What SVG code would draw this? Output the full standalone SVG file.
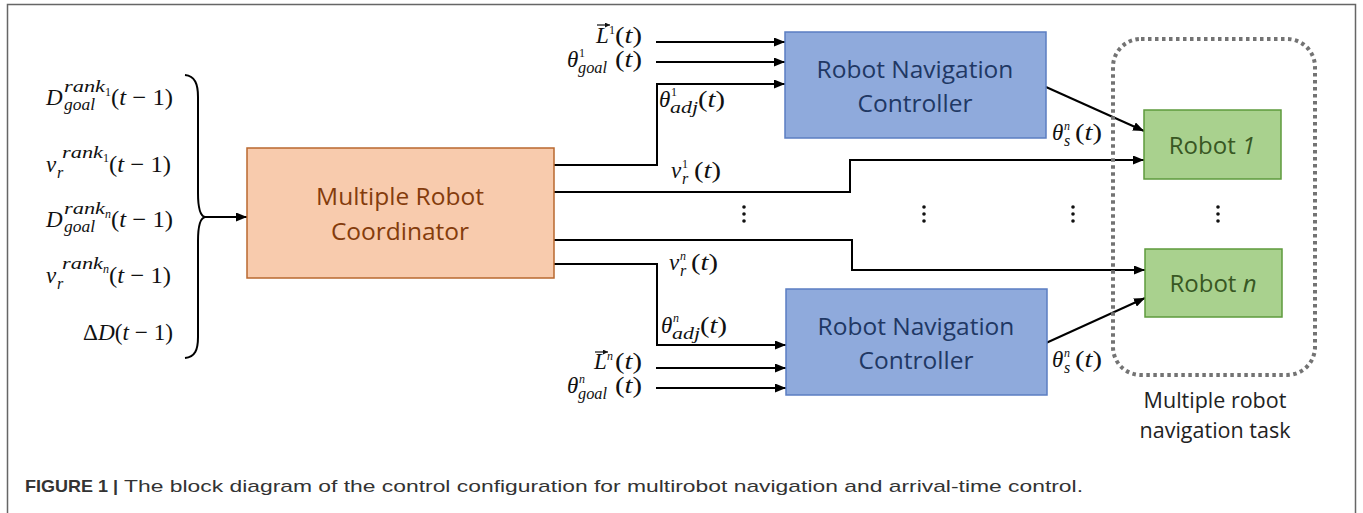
<svg xmlns="http://www.w3.org/2000/svg" width="1363" height="513" viewBox="0 0 1363 513">
<style>
.m{font-family:"Liberation Serif","DejaVu Serif",serif;font-style:italic;fill:#111}
.n{font-style:normal}
.big{font-size:23px}
.sub{font-size:16px}
.sm{font-size:12px}
.lbl{font-family:"Open Sans","Noto Sans",sans-serif;text-anchor:middle}
.wire{fill:none;stroke:#000;stroke-width:2}
.dot{fill:#111}
</style>
<defs>
<marker id="ah" markerUnits="userSpaceOnUse" markerWidth="11" markerHeight="9" refX="11" refY="4.5" orient="auto">
<path d="M0,0 L11,4.5 L0,9 z" fill="#000"/>
</marker>
<marker id="va" markerUnits="userSpaceOnUse" markerWidth="5" markerHeight="5" refX="5" refY="2.5" orient="auto">
<path d="M0,0 L5,2.5 L0,5 z" fill="#111"/>
</marker>
</defs>
<rect width="1363" height="513" fill="#fff"/>
<path d="M7.5,513 V4.5 H1355.5 V513" fill="none" stroke="#666" stroke-width="1.5"/>

<g id="connectors">
<path class="wire" d="M185,75 C195,76 198,84 198,97 V193 C198,208 200,216 205,217 C200,218 198,226 198,241 V337 C198,350 195,357 185,358"/>
<path class="wire" d="M205,217 H247" marker-end="url(#ah)"/>
<path class="wire" d="M656,42 H785" marker-end="url(#ah)"/>
<path class="wire" d="M656,62 H785" marker-end="url(#ah)"/>
<path class="wire" d="M554,165 H657 V84 H785" marker-end="url(#ah)"/>
<path class="wire" d="M554,192 H850 V160 H1144" marker-end="url(#ah)"/>
<path class="wire" d="M554,240 H852 V270 H1145" marker-end="url(#ah)"/>
<path class="wire" d="M554,264 H657 V345 H786" marker-end="url(#ah)"/>
<path class="wire" d="M656,368 H786" marker-end="url(#ah)"/>
<path class="wire" d="M656,388 H786" marker-end="url(#ah)"/>
<path class="wire" d="M1046,87 L1144,131" marker-end="url(#ah)"/>
<path class="wire" d="M1046,343 L1145,298" marker-end="url(#ah)"/>
</g>

<g id="container">
<rect x="1113" y="39" width="202" height="336" rx="28" fill="none" stroke="#737373" stroke-width="4" stroke-dasharray="3.5 3.5"/>
<text class="lbl" x="1215" y="408" font-size="21.5" fill="#222">Multiple robot</text>
<text class="lbl" x="1215" y="438" font-size="21.5" fill="#222">navigation task</text>
</g>

<g id="coordinator">
<rect x="247" y="148" width="307" height="130" fill="#F8CBAD" stroke="#B9682F" stroke-width="1.5"/>
<text class="lbl" x="400" y="205" font-size="24.5" fill="#843C0C">Multiple Robot</text>
<text class="lbl" x="400" y="240" font-size="24.5" fill="#843C0C">Coordinator</text>
</g>

<g id="controller1">
<rect x="785" y="32" width="261" height="106" fill="#8FAADC" stroke="#5B7EC2" stroke-width="1.5"/>
<text class="lbl" x="915" y="78" font-size="24.5" fill="#1F3864">Robot Navigation</text>
<text class="lbl" x="915" y="112" font-size="24.5" fill="#1F3864">Controller</text>
</g>

<g id="controllern">
<rect x="786" y="289" width="261" height="106" fill="#8FAADC" stroke="#5B7EC2" stroke-width="1.5"/>
<text class="lbl" x="916" y="335" font-size="24.5" fill="#1F3864">Robot Navigation</text>
<text class="lbl" x="916" y="369" font-size="24.5" fill="#1F3864">Controller</text>
</g>

<g id="robot1">
<rect x="1144" y="110" width="137" height="69" fill="#A9D18E" stroke="#5E9A3C" stroke-width="1.5"/>
<text class="lbl" x="1212" y="154" font-size="24" fill="#385723">Robot <tspan font-style="italic">1</tspan></text>
</g>

<g id="robotn">
<rect x="1145" y="249" width="137" height="68" fill="#A9D18E" stroke="#5E9A3C" stroke-width="1.5"/>
<text class="lbl" x="1213" y="292" font-size="24" fill="#385723">Robot <tspan font-style="italic">n</tspan></text>
</g>

<g id="ellipses">
<circle class="dot" cx="744" cy="207" r="1.8"/><circle class="dot" cx="744" cy="214" r="1.8"/><circle class="dot" cx="744" cy="221" r="1.8"/>
<circle class="dot" cx="924" cy="207" r="1.8"/><circle class="dot" cx="924" cy="214" r="1.8"/><circle class="dot" cx="924" cy="221" r="1.8"/>
<circle class="dot" cx="1073" cy="207" r="1.8"/><circle class="dot" cx="1073" cy="214" r="1.8"/><circle class="dot" cx="1073" cy="221" r="1.8"/>
<circle class="dot" cx="1218" cy="207" r="1.8"/><circle class="dot" cx="1218" cy="214" r="1.8"/><circle class="dot" cx="1218" cy="221" r="1.8"/>
</g>

<g id="inputs-left">
<text class="m big" x="46" y="105">D</text>
<text class="m sub" x="64" y="92" textLength="41" lengthAdjust="spacingAndGlyphs">rank</text>
<text class="m sm n" x="105" y="96">1</text>
<text class="m sub" x="64" y="110" textLength="31" lengthAdjust="spacingAndGlyphs">goal</text>
<text class="m big" x="111" y="105" textLength="62" lengthAdjust="spacingAndGlyphs"><tspan class="n">(</tspan>t<tspan class="n"> − 1)</tspan></text>

<text class="m big" x="46" y="172">v</text>
<text class="m sub" x="57" y="178">r</text>
<text class="m sub" x="62" y="158" textLength="41" lengthAdjust="spacingAndGlyphs">rank</text>
<text class="m sm n" x="103" y="162">1</text>
<text class="m big" x="109" y="172" textLength="62" lengthAdjust="spacingAndGlyphs"><tspan class="n">(</tspan>t<tspan class="n"> − 1)</tspan></text>

<text class="m big" x="46" y="227">D</text>
<text class="m sub" x="64" y="214" textLength="41" lengthAdjust="spacingAndGlyphs">rank</text>
<text class="m sm" x="105" y="218">n</text>
<text class="m sub" x="64" y="232" textLength="31" lengthAdjust="spacingAndGlyphs">goal</text>
<text class="m big" x="111" y="227" textLength="62" lengthAdjust="spacingAndGlyphs"><tspan class="n">(</tspan>t<tspan class="n"> − 1)</tspan></text>

<text class="m big" x="46" y="283">v</text>
<text class="m sub" x="57" y="289">r</text>
<text class="m sub" x="62" y="269" textLength="41" lengthAdjust="spacingAndGlyphs">rank</text>
<text class="m sm" x="103" y="273">n</text>
<text class="m big" x="109" y="283" textLength="62" lengthAdjust="spacingAndGlyphs"><tspan class="n">(</tspan>t<tspan class="n"> − 1)</tspan></text>

<text class="m big" x="83" y="340" textLength="90" lengthAdjust="spacingAndGlyphs"><tspan class="n">Δ</tspan>D<tspan class="n">(</tspan>t<tspan class="n"> − 1)</tspan></text>
</g>

<g id="signal-labels">
<text class="m big" x="596" y="43">L</text>
<path d="M597,25 H610" stroke="#111" stroke-width="1.2" marker-end="url(#va)"/>
<text class="m sm n" x="609" y="34">1</text>
<text class="m big" x="615" y="43" textLength="27" lengthAdjust="spacingAndGlyphs"><tspan class="n">(</tspan>t<tspan class="n">)</tspan></text>

<text class="m big" x="567" y="67">θ</text>
<text class="m sm n" x="579" y="57">1</text>
<text class="m sub" x="578" y="73" textLength="29" lengthAdjust="spacingAndGlyphs">goal</text>
<text class="m big" x="615" y="67" textLength="27" lengthAdjust="spacingAndGlyphs"><tspan class="n">(</tspan>t<tspan class="n">)</tspan></text>

<text class="m big" x="659" y="107">θ</text>
<text class="m sm n" x="671" y="96">1</text>
<text class="m sub" x="670" y="113" textLength="28" lengthAdjust="spacingAndGlyphs">adj</text>
<text class="m big" x="698" y="107" textLength="27" lengthAdjust="spacingAndGlyphs"><tspan class="n">(</tspan>t<tspan class="n">)</tspan></text>

<text class="m big" x="671" y="178">v</text>
<text class="m sm n" x="682" y="168">1</text>
<text class="m sub" x="682" y="184">r</text>
<text class="m big" x="694" y="178" textLength="27" lengthAdjust="spacingAndGlyphs"><tspan class="n">(</tspan>t<tspan class="n">)</tspan></text>

<text class="m big" x="669" y="270">v</text>
<text class="m sm" x="680" y="260">n</text>
<text class="m sub" x="680" y="276">r</text>
<text class="m big" x="691" y="270" textLength="27" lengthAdjust="spacingAndGlyphs"><tspan class="n">(</tspan>t<tspan class="n">)</tspan></text>

<text class="m big" x="661" y="333">θ</text>
<text class="m sm" x="673" y="322">n</text>
<text class="m sub" x="672" y="339" textLength="28" lengthAdjust="spacingAndGlyphs">adj</text>
<text class="m big" x="700" y="333" textLength="27" lengthAdjust="spacingAndGlyphs"><tspan class="n">(</tspan>t<tspan class="n">)</tspan></text>

<text class="m big" x="594" y="369">L</text>
<path d="M595,352 H608" stroke="#111" stroke-width="1.2" marker-end="url(#va)"/>
<text class="m sm" x="607" y="360">n</text>
<text class="m big" x="615" y="369" textLength="27" lengthAdjust="spacingAndGlyphs"><tspan class="n">(</tspan>t<tspan class="n">)</tspan></text>

<text class="m big" x="567" y="393">θ</text>
<text class="m sm" x="579" y="383">n</text>
<text class="m sub" x="578" y="399" textLength="29" lengthAdjust="spacingAndGlyphs">goal</text>
<text class="m big" x="615" y="393" textLength="27" lengthAdjust="spacingAndGlyphs"><tspan class="n">(</tspan>t<tspan class="n">)</tspan></text>

<text class="m big" x="1052" y="140">θ</text>
<text class="m sm" x="1064" y="130">n</text>
<text class="m sub" x="1064" y="146">s</text>
<text class="m big" x="1075" y="140" textLength="27" lengthAdjust="spacingAndGlyphs"><tspan class="n">(</tspan>t<tspan class="n">)</tspan></text>

<text class="m big" x="1052" y="367">θ</text>
<text class="m sm" x="1064" y="357">n</text>
<text class="m sub" x="1064" y="373">s</text>
<text class="m big" x="1075" y="367" textLength="27" lengthAdjust="spacingAndGlyphs"><tspan class="n">(</tspan>t<tspan class="n">)</tspan></text>
</g>

<g id="caption">
<text x="25" y="492" font-family="'Liberation Sans',Arial,sans-serif" font-size="17" font-weight="bold" fill="#333" textLength="93" lengthAdjust="spacingAndGlyphs">FIGURE 1 |</text>
<text x="124" y="492" font-family="'Liberation Sans',Arial,sans-serif" font-size="17" fill="#333" textLength="959" lengthAdjust="spacingAndGlyphs">The block diagram of the control configuration for multirobot navigation and arrival-time control.</text>
</g>
</svg>
